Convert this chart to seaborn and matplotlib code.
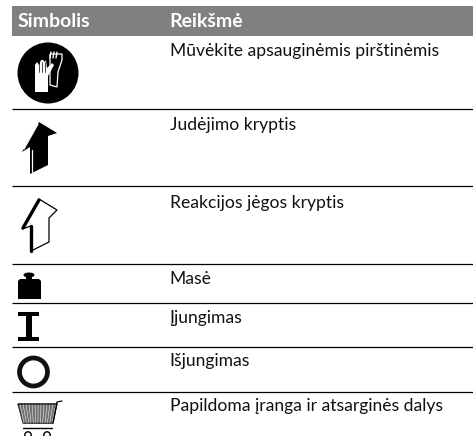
import matplotlib
matplotlib.use('Agg')
import matplotlib.pyplot as plt
import seaborn as sns
from matplotlib.patches import Circle, Ellipse, Polygon, Rectangle

# table content
headers = ['Simbolis', 'Reikšmė']
meanings = ['Mūvėkite apsauginėmis pirštinėmis', 'Judėjimo kryptis', 'Reakcijos jėgos kryptis',
            'Masė', 'Įjungimas', 'Išjungimas', 'Papildoma įranga ir atsarginės dalys']
text_y = [51, 125, 203, 279, 318, 361, 406]
rule_y = [109, 186, 264, 303, 347, 392]

sns.set_theme(style='white')
plt.rcParams['font.family'] = ['Lato', 'DejaVu Sans']

fig = plt.figure(figsize=(4.73, 4.36), dpi=100)
ax = fig.add_axes([0, 0, 1, 1])
ax.set_xlim(0, 473)
ax.set_ylim(436, 0)
ax.axis('off')

# header band
ax.add_patch(Rectangle((12, 6), 461, 30, color='#808080', lw=0))
ax.text(18, 21.5, headers[0], color='white', fontsize=14, fontweight='bold', va='center')
ax.text(169.5, 21.5, headers[1], color='white', fontsize=14, fontweight='bold', va='center')

ax.hlines(rule_y, 12, 473, color='black', lw=0.9)
for y, t in zip(text_y, meanings):
    ax.text(169.5, y, t, color='#111111', fontsize=12.6, va='center')

# gloves
ax.add_patch(Circle((48, 73), 30.5, color='black', lw=0))
ax.add_patch(Polygon([(50, 54), (62, 54), (62, 60), (58, 72), (57, 87), (50, 85)], fc='black', ec='white', lw=0.9))
for x in (50, 53, 56):
    ax.plot([x, x + 1], [58, 52], color='white', lw=1.0)
ax.add_patch(Polygon([(35, 65), (37, 62), (39, 65), (41, 60), (43, 60), (45, 62), (46, 60), (47, 68),
                      (52, 63), (54, 65), (48, 76), (48, 92), (35, 92)], color='white', lw=0))
for x in (38.5, 41.5, 44.5):
    ax.plot([x, x], [62, 72], color='black', lw=0.5)

# solid arrow
ax.add_patch(Polygon([(39, 122), (57, 133), (48, 136), (48, 165), (30, 174), (30, 147), (22, 152)], color='black', lw=0))
ax.plot([24, 38], [149, 124], color='white', lw=0.9)
ax.plot([32, 32], [150, 172], color='white', lw=0.9)

# outlined arrow
ax.add_patch(Polygon([(39, 199), (57, 210), (49, 218), (49, 242), (31, 251), (31, 226), (22, 229)], fc='white', ec='black', lw=0.9))
ax.plot([23, 39], [228, 200], color='black', lw=2.4)
ax.plot([31, 31], [226, 251], color='black', lw=2.4)

# weight
ax.add_patch(Polygon([(18, 281), (20, 279), (39, 279), (41, 281), (41, 299), (18, 299)], color='black', lw=0))
ax.add_patch(Ellipse((29, 275), 11, 5, color='black', lw=0))
ax.add_patch(Rectangle((26, 275), 6, 5, color='black', lw=0))

# on symbol
ax.add_patch(Rectangle((18, 312), 21, 4, color='black', lw=0))
ax.add_patch(Rectangle((18, 337), 21, 4, color='black', lw=0))
ax.add_patch(Rectangle((26, 315), 6, 23, color='black', lw=0))

# off symbol
ax.add_patch(Circle((33.5, 372), 14, fc='none', ec='#111111', lw=3.4))

# cart
ax.add_patch(Polygon([(18, 404), (57, 404), (53, 423), (23, 423)], fc='#444444', ec='black', lw=0.7))
for x in range(20, 57, 3):
    ax.plot([x, 38 + (x - 38) * 0.78], [404, 423], color='white', lw=0.35)
for y in range(406, 423, 2):
    ax.plot([18, 57], [y, y], color='white', lw=0.35)
ax.add_patch(Polygon([(18, 404), (57, 404), (53, 423), (23, 423)], fc='none', ec='black', lw=0.7))
ax.plot([53, 57, 62], [423, 402, 401], color='black', lw=0.9)
ax.plot([23, 52], [428, 428], color='black', lw=1)
ax.add_patch(Circle((28, 435), 3.2, fc='white', ec='black', lw=1))
ax.add_patch(Circle((47, 435), 3.2, fc='white', ec='black', lw=1))

fig.savefig('out.png', dpi=100)
